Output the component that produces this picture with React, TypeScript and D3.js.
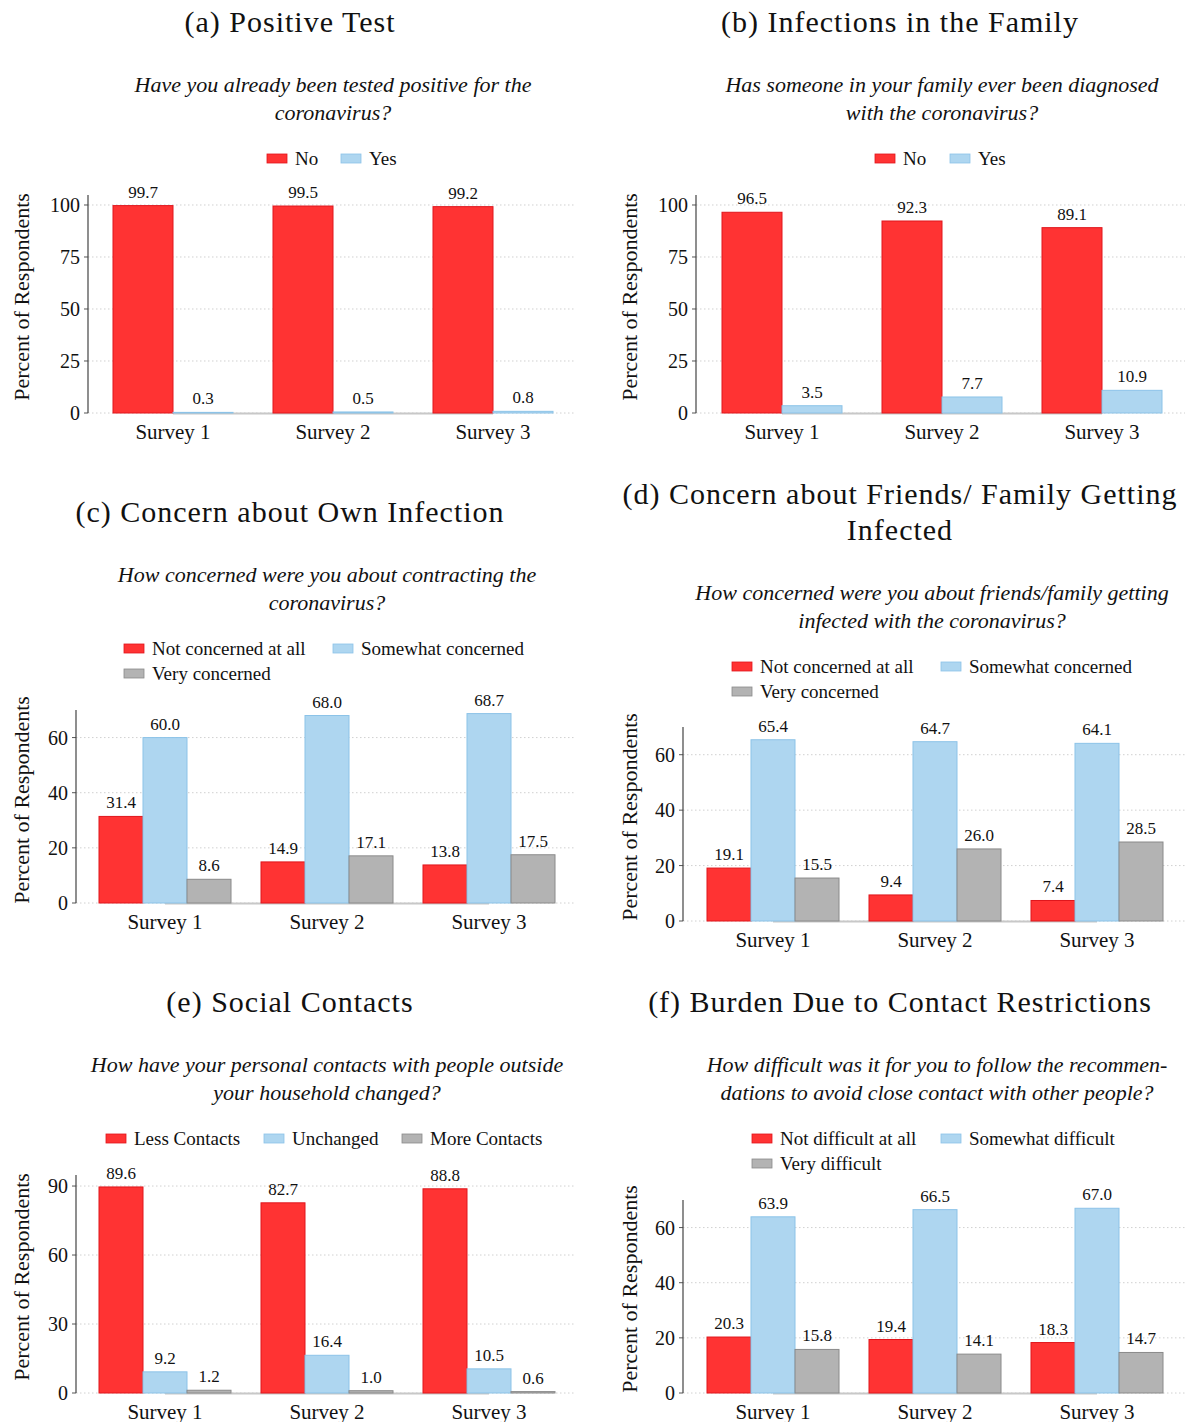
import React from "react";
import * as d3 from "d3";

const surveys = ["Survey 1", "Survey 2", "Survey 3"];

// (a) Positive Test
const seriesA = ["No", "Yes"];
const noA = [99.7, 99.5, 99.2];
const yesA = [0.3, 0.5, 0.8];
const ticksA = [0, 25, 50, 75, 100];

// (b) Infections in the Family
const seriesB = ["No", "Yes"];
const noB = [96.5, 92.3, 89.1];
const yesB = [3.5, 7.7, 10.9];
const ticksB = [0, 25, 50, 75, 100];

// (c) Concern about Own Infection
const seriesC = ["Not concerned at all", "Somewhat concerned", "Very concerned"];
const notC = [31.4, 14.9, 13.8];
const someC = [60.0, 68.0, 68.7];
const veryC = [8.6, 17.1, 17.5];
const ticksC = [0, 20, 40, 60];

// (d) Concern about Friends/ Family Getting Infected
const seriesD = ["Not concerned at all", "Somewhat concerned", "Very concerned"];
const notD = [19.1, 9.4, 7.4];
const someD = [65.4, 64.7, 64.1];
const veryD = [15.5, 26.0, 28.5];
const ticksD = [0, 20, 40, 60];

// (e) Social Contacts
const seriesE = ["Less Contacts", "Unchanged", "More Contacts"];
const lessE = [89.6, 82.7, 88.8];
const unchE = [9.2, 16.4, 10.5];
const moreE = [1.2, 1.0, 0.6];
const ticksE = [0, 30, 60, 90];

// (f) Burden Due to Contact Restrictions
const seriesF = ["Not difficult at all", "Somewhat difficult", "Very difficult"];
const notF = [20.3, 19.4, 18.3];
const someF = [63.9, 66.5, 67.0];
const veryF = [15.8, 14.1, 14.7];
const ticksF = [0, 20, 40, 60];

const FILLS = ["#ff3333", "#aed6f0", "#b3b3b3"];
const STROKES = ["#e0161c", "#8cc3e8", "#8a8a8a"];
const SERIF = "'Liberation Serif', 'DejaVu Serif', serif";

type LegendItem = { x: number; y: number };

type PanelProps = {
  title: string[];
  titleX: number;
  titleY: number;
  question: string[];
  qX: number;
  qY: number;
  series: string[];
  values: number[][];
  ticks: number[];
  yMax: number;
  axisX: number;
  yTop: number;
  y0: number;
  xRight: number;
  range: [number, number];
  paddingInner: number;
  paddingOuter: number;
  legend: LegendItem[];
  yTitleX: number;
  yTitleOff: number;
};

function Panel(p: PanelProps) {
  const x = d3.scaleBand<string>().domain(surveys).range(p.range).paddingInner(p.paddingInner).paddingOuter(p.paddingOuter);
  const xi = d3.scaleBand<string>().domain(p.series).range([0, x.bandwidth()]);
  const y = d3.scaleLinear().domain([0, p.yMax]).range([p.y0, p.yTop]);
  const c1 = (x(surveys[0]) ?? 0) + x.bandwidth() / 2;
  const c3 = (x(surveys[2]) ?? 0) + x.bandwidth() / 2;
  return (
    <g fontFamily={SERIF} fill="#111">
      {p.title.map((t, i) => (
        <text key={"t" + i} x={p.titleX} y={p.titleY + i * 36} textAnchor="middle" fontSize={30} letterSpacing={1}>
          {t}
        </text>
      ))}
      {p.question.map((t, i) => (
        <text key={"q" + i} x={p.qX} y={p.qY + i * 28} textAnchor="middle" fontSize={22} fontStyle="italic">
          {t}
        </text>
      ))}
      {p.series.map((s, i) => (
        <g key={"l" + i}>
          <rect x={p.legend[i].x} y={p.legend[i].y - 5} width={20} height={9} fill={FILLS[i]} stroke={STROKES[i]} strokeWidth={0.8} />
          <text x={p.legend[i].x + 28} y={p.legend[i].y + 6} fontSize={19}>
            {s}
          </text>
        </g>
      ))}
      {p.ticks.map((t) => (
        <g key={"g" + t}>
          <line x1={p.axisX} x2={p.xRight} y1={y(t)} y2={y(t)} stroke="#d0d0d0" strokeWidth={1} strokeDasharray="1.5,2.5" />
          <line x1={p.axisX - 4} x2={p.axisX} y1={y(t)} y2={y(t)} stroke="#555" strokeWidth={1} />
          <text x={p.axisX - 8} y={y(t) + 7} textAnchor="end" fontSize={20}>
            {t}
          </text>
        </g>
      ))}
      <line x1={c1} x2={c3} y1={p.y0 + 0.5} y2={p.y0 + 0.5} stroke="#c8c8c8" strokeWidth={2} />
      {surveys.map((s, si) => (
        <g key={s}>
          {p.series.map((ser, k) => {
            const v = p.values[k][si];
            const bx = (x(s) ?? 0) + (xi(ser) ?? 0);
            return (
              <g key={ser}>
                <rect x={bx} y={y(v)} width={xi.bandwidth()} height={p.y0 - y(v)} fill={FILLS[k]} stroke={STROKES[k]} strokeWidth={1} />
                <text x={bx + xi.bandwidth() / 2} y={y(v) - 8} textAnchor="middle" fontSize={17}>
                  {v.toFixed(1)}
                </text>
              </g>
            );
          })}
          <text x={(x(s) ?? 0) + x.bandwidth() / 2} y={p.y0 + 26} textAnchor="middle" fontSize={21}>
            {s}
          </text>
        </g>
      ))}
      <line x1={p.axisX} x2={p.axisX} y1={p.yTop} y2={p.y0} stroke="#444" strokeWidth={1.2} />
      <text transform={`translate(${p.yTitleX},${p.y0 - p.yTitleOff}) rotate(-90)`} textAnchor="middle" fontSize={22}>
        Percent of Respondents
      </text>
    </g>
  );
}

export default function App() {
  const two = { paddingInner: 0.25, paddingOuter: 0.125 };
  const three = { paddingInner: 30 / 162, paddingOuter: 15 / 162 };
  return (
    <svg width={1193} height={1422} style={{ display: "block", position: "absolute", left: 0, top: 0, background: "#fff" }}>
      <Panel
        title={["(a) Positive Test"]} titleX={290} titleY={32}
        question={["Have you already been tested positive for the", "coronavirus?"]} qX={333} qY={92}
        series={seriesA} values={[noA, yesA]} ticks={ticksA} yMax={104.8}
        axisX={88} yTop={195} y0={413} xRight={575} range={[93, 573]} {...two}
        legend={[{ x: 267, y: 159 }, { x: 341, y: 159 }]} yTitleX={29} yTitleOff={116}
      />
      <Panel
        title={["(b) Infections in the Family"]} titleX={900} titleY={32}
        question={["Has someone in your family ever been diagnosed", "with the coronavirus?"]} qX={942} qY={92}
        series={seriesB} values={[noB, yesB]} ticks={ticksB} yMax={104.8}
        axisX={696} yTop={195} y0={413} xRight={1185} range={[702, 1182]} {...two}
        legend={[{ x: 875, y: 159 }, { x: 950, y: 159 }]} yTitleX={637} yTitleOff={116}
      />
      <Panel
        title={["(c) Concern about Own Infection"]} titleX={290} titleY={522}
        question={["How concerned were you about contracting the", "coronavirus?"]} qX={327} qY={582}
        series={seriesC} values={[notC, someC, veryC]} ticks={ticksC} yMax={70}
        axisX={76} yTop={710} y0={903} xRight={575} range={[84, 570]} {...three}
        legend={[{ x: 124, y: 649 }, { x: 333, y: 649 }, { x: 124, y: 674 }]} yTitleX={29} yTitleOff={103}
      />
      <Panel
        title={["(d) Concern about Friends/ Family Getting", "Infected"]} titleX={900} titleY={504}
        question={["How concerned were you about friends/family getting", "infected with the coronavirus?"]} qX={932} qY={600}
        series={seriesD} values={[notD, someD, veryD]} ticks={ticksD} yMax={70}
        axisX={683} yTop={727} y0={921} xRight={1185} range={[692, 1178]} {...three}
        legend={[{ x: 732, y: 667 }, { x: 941, y: 667 }, { x: 732, y: 692 }]} yTitleX={637} yTitleOff={104}
      />
      <Panel
        title={["(e) Social Contacts"]} titleX={290} titleY={1012}
        question={["How have your personal contacts with people outside", "your household changed?"]} qX={327} qY={1072}
        series={seriesE} values={[lessE, unchE, moreE]} ticks={ticksE} yMax={94.8}
        axisX={76} yTop={1175} y0={1393} xRight={575} range={[84, 570]} {...three}
        legend={[{ x: 106, y: 1139 }, { x: 264, y: 1139 }, { x: 402, y: 1139 }]} yTitleX={29} yTitleOff={116}
      />
      <Panel
        title={["(f) Burden Due to Contact Restrictions"]} titleX={900} titleY={1012}
        question={["How difficult was it for you to follow the recommen-", "dations to avoid close contact with other people?"]} qX={937} qY={1072}
        series={seriesF} values={[notF, someF, veryF]} ticks={ticksF} yMax={70}
        axisX={683} yTop={1200} y0={1393} xRight={1185} range={[692, 1178]} {...three}
        legend={[{ x: 752, y: 1139 }, { x: 941, y: 1139 }, { x: 752, y: 1164 }]} yTitleX={637} yTitleOff={104}
      />
    </svg>
  );
}
